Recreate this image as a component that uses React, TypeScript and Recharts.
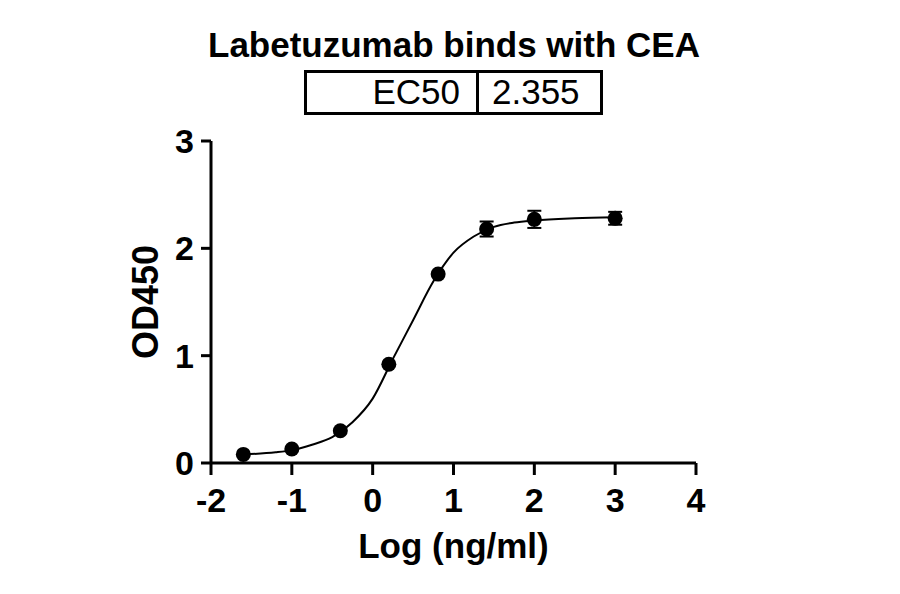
import React from "react";
import { ComposedChart, Line, Scatter, ErrorBar, XAxis, YAxis } from "recharts";

// measured points (log concentration vs OD450)
const logConc = [-1.6, -1.0, -0.4, 0.2, 0.81, 1.41, 2.0, 3.0];
const od450 = [0.08, 0.13, 0.3, 0.92, 1.76, 2.18, 2.27, 2.28];
const sem = [0, 0, 0, 0, 0, 0.07, 0.08, 0.06];

// fitted curve
const fitX = [-1.6, -1.2, -1.0, -0.75, -0.5, -0.25, 0, 0.25, 0.5, 0.75, 1.0, 1.25, 1.5, 1.75, 2.0, 2.5, 3.0];
const fitY = [0.08, 0.1, 0.12, 0.17, 0.24, 0.38, 0.6, 0.97, 1.33, 1.69, 1.96, 2.11, 2.2, 2.24, 2.26, 2.28, 2.29];

const xTicks = [-2, -1, 0, 1, 2, 3, 4];
const yTicks = [0, 1, 2, 3];

const points = logConc.map((x, i) => ({ x, y: od450[i], err: sem[i] }));
const fit = fitX.map((x, i) => ({ x, y: fitY[i] }));

const font = "Liberation Sans, Arial, sans-serif";
const tickStyle = { fontSize: 34, fontWeight: 700, fill: "#000", fontFamily: font };
const titleStyle = { fontSize: 35, fontWeight: 700, fill: "#000", fontFamily: font };

export default function App() {
  return (
    <div style={{ position: "absolute", left: 0, top: 0, width: 900, height: 594, background: "#fff", fontFamily: font }}>
      <div style={{ position: "absolute", left: 4, width: 900, top: 25, textAlign: "center", fontSize: 35, fontWeight: 700, lineHeight: "40px" }}>
        Labetuzumab binds with CEA
      </div>
      <div style={{ position: "absolute", left: 304, top: 70, width: 299, height: 45, boxSizing: "border-box", border: "3px solid #000", display: "flex", fontSize: 35, lineHeight: "37px" }}>
        <div style={{ width: 172, borderRight: "3px solid #000", textAlign: "right", paddingRight: 16, boxSizing: "border-box" }}>EC50</div>
        <div style={{ paddingLeft: 13 }}>2.355</div>
      </div>
      <ComposedChart
        width={900}
        height={594}
        margin={{ top: 141, right: 204, bottom: 61, left: 151 }}
        style={{ position: "absolute", left: 0, top: 0 }}
      >
        <XAxis
          type="number"
          dataKey="x"
          domain={[-2, 4]}
          ticks={xTicks}
          interval={0}
          allowDataOverflow
          height={70}
          stroke="#000"
          axisLine={{ strokeWidth: 3 }}
          tickLine={{ strokeWidth: 3 }}
          tickSize={12}
          tickMargin={13}
          tick={tickStyle}
          label={{ value: "Log (ng/ml)", position: "bottom", offset: 0, style: titleStyle }}
        />
        <YAxis
          type="number"
          dataKey="y"
          domain={[0, 3]}
          ticks={yTicks}
          interval={0}
          width={60}
          stroke="#000"
          axisLine={{ strokeWidth: 3 }}
          tickLine={{ strokeWidth: 3 }}
          tickSize={10}
          tickMargin={7}
          tick={tickStyle}
          label={{ value: "OD450", angle: -90, position: "left", offset: 6, style: { ...titleStyle, fontSize: 36, textAnchor: "middle" } }}
        />
        <Line data={fit} dataKey="y" type="monotone" stroke="#000" strokeWidth={2} dot={false} activeDot={false} isAnimationActive={false} />
        <Scatter data={points} dataKey="y" fill="#000" shape={(p: any) => <circle cx={p.cx} cy={p.cy} r={7.5} fill="#000" />} isAnimationActive={false}>
          <ErrorBar dataKey="err" direction="y" width={7} stroke="#000" strokeWidth={2} isAnimationActive={false} />
        </Scatter>
      </ComposedChart>
    </div>
  );
}
